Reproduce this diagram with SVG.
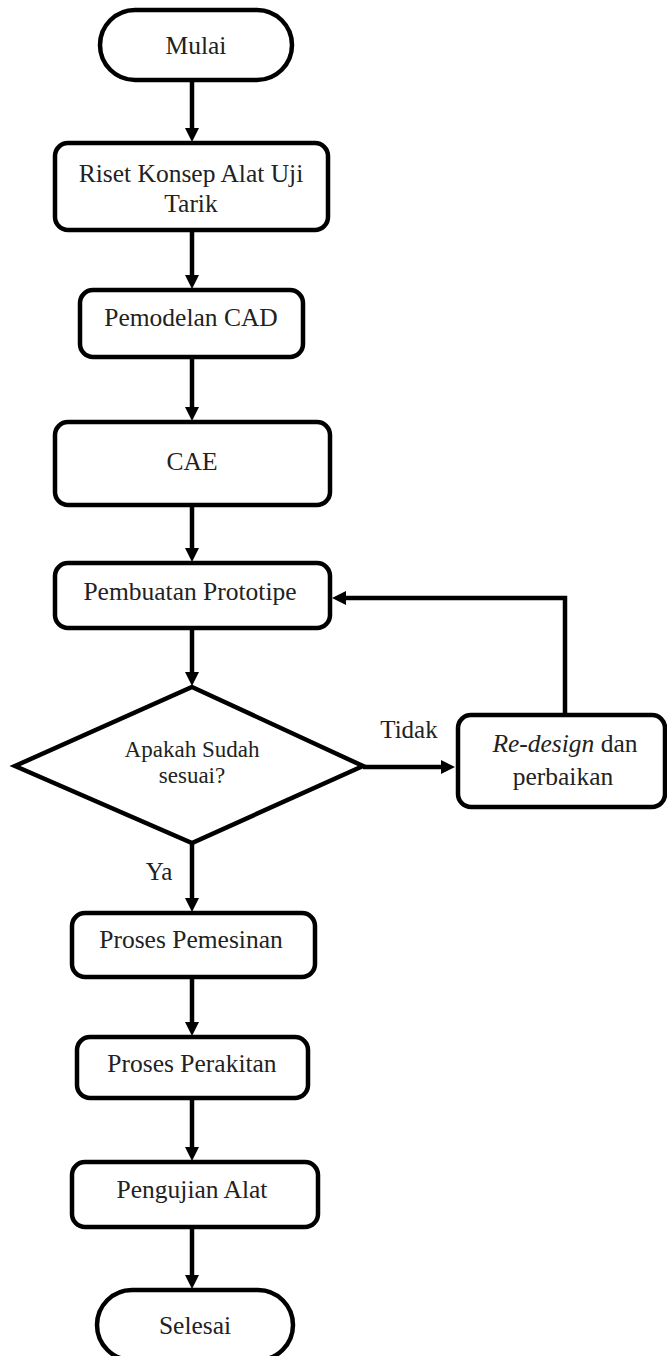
<svg xmlns="http://www.w3.org/2000/svg" width="667" height="1356" viewBox="0 0 667 1356">
<style>
.box{fill:#fff;stroke:#000;stroke-width:4.5}
.t{font-family:"Liberation Serif","Times New Roman",serif;font-size:25.5px;fill:#222;text-anchor:middle}
.d{font-size:23px}
.c{fill:none;stroke:#000;stroke-width:4.5}
</style>
<defs>
<marker id="ah" markerUnits="userSpaceOnUse" markerWidth="14" markerHeight="14" refX="4" refY="7" orient="auto">
<path d="M0,0 L14,7 L0,14 z" fill="#000"/>
</marker>
</defs>
<rect width="667" height="1356" fill="#fff"/>
<g id="connectors">
<line class="c" x1="192" y1="80" x2="192" y2="132" marker-end="url(#ah)"/>
<line class="c" x1="192" y1="230" x2="192" y2="279" marker-end="url(#ah)"/>
<line class="c" x1="192" y1="357" x2="192" y2="411" marker-end="url(#ah)"/>
<line class="c" x1="192" y1="505" x2="192" y2="552" marker-end="url(#ah)"/>
<line class="c" x1="192" y1="628" x2="192" y2="676" marker-end="url(#ah)"/>
<line class="c" x1="192" y1="843" x2="192" y2="902" marker-end="url(#ah)"/>
<line class="c" x1="192" y1="977" x2="192" y2="1026" marker-end="url(#ah)"/>
<line class="c" x1="192" y1="1098" x2="192" y2="1151" marker-end="url(#ah)"/>
<line class="c" x1="192" y1="1227" x2="192" y2="1279" marker-end="url(#ah)"/>
<line class="c" x1="363" y1="767" x2="445" y2="767" marker-end="url(#ah)"/>
<polyline class="c" points="565,715 565,598 342,598" marker-end="url(#ah)"/>
<text class="t" x="409" y="738" style="font-size:25px">Tidak</text>
<text class="t" x="159" y="880" style="font-size:25px">Ya</text>
</g>
<g id="mulai">
<rect class="box" x="100" y="10" width="192" height="70" rx="35" ry="35"/>
<text class="t" x="196" y="54">Mulai</text>
</g>
<g id="riset">
<rect class="box" x="55" y="143" width="273" height="87" rx="13"/>
<text class="t" x="191" y="182">Riset Konsep Alat Uji</text>
<text class="t" x="191" y="212">Tarik</text>
</g>
<g id="pemodelan">
<rect class="box" x="80" y="290" width="223" height="67" rx="13"/>
<text class="t" x="191" y="326">Pemodelan CAD</text>
</g>
<g id="cae">
<rect class="box" x="55" y="422" width="275" height="83" rx="13"/>
<text class="t" x="192" y="470">CAE</text>
</g>
<g id="prototipe">
<rect class="box" x="55" y="563" width="275" height="65" rx="13"/>
<text class="t" x="190" y="600">Pembuatan Prototipe</text>
</g>
<g id="keputusan">
<polygon class="box" points="192,687 363,766 192,843 15,766"/>
<text class="t d" x="192" y="757">Apakah Sudah</text>
<text class="t d" x="192" y="783">sesuai?</text>
</g>
<g id="redesign">
<rect class="box" x="458" y="715" width="207" height="92" rx="13"/>
<text class="t" x="565" y="752"><tspan font-style="italic">Re-design</tspan> dan</text>
<text class="t" x="563" y="785">perbaikan</text>
</g>
<g id="pemesinan">
<rect class="box" x="72" y="913" width="243" height="64" rx="13"/>
<text class="t" x="191" y="948">Proses Pemesinan</text>
</g>
<g id="perakitan">
<rect class="box" x="77" y="1037" width="231" height="61" rx="13"/>
<text class="t" x="192" y="1072">Proses Perakitan</text>
</g>
<g id="pengujian">
<rect class="box" x="72" y="1162" width="246" height="65" rx="13"/>
<text class="t" x="192" y="1198">Pengujian Alat</text>
</g>
<g id="selesai">
<rect class="box" x="97" y="1290" width="196" height="70" rx="35" ry="35"/>
<text class="t" x="195" y="1334">Selesai</text>
</g>
</svg>
